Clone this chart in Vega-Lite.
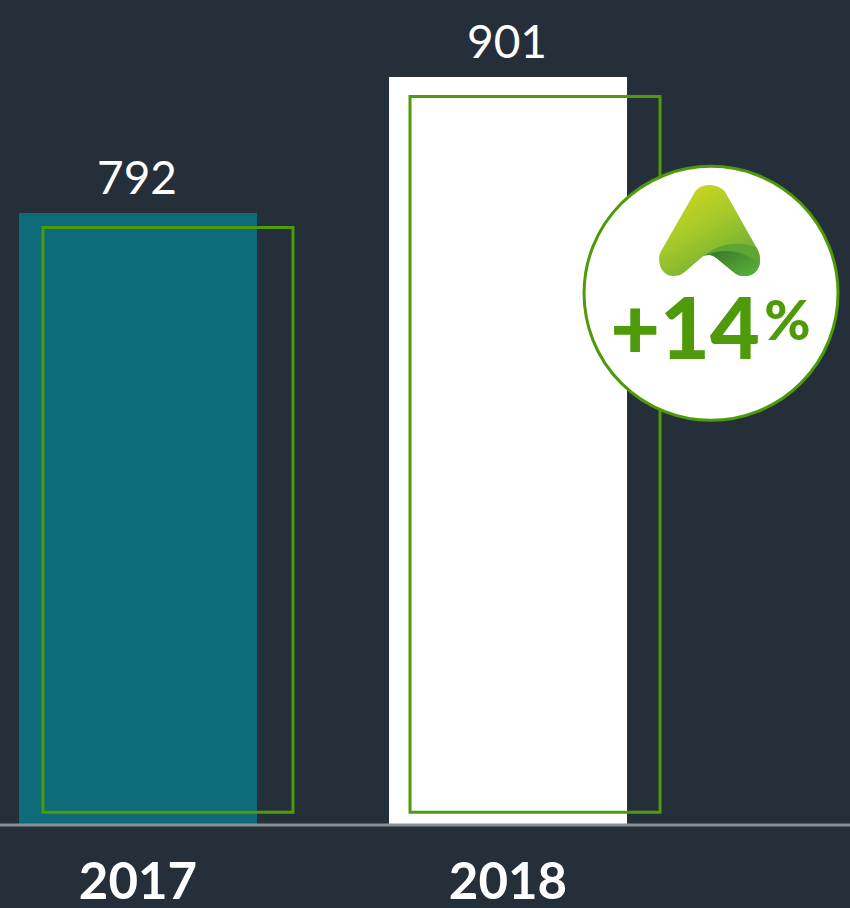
{
"$schema":"https://vega.github.io/schema/vega-lite/v6.json",
"width":850,"height":825,
"autosize":"none",
"padding":{"left":0,"top":0,"right":0,"bottom":83},
"background":"#242f3a",
"config":{"view":{"stroke":null},"text":{"font":"Lato"}},
"datasets":{
 "bars":[{"year":"2017","actual":792,"outline":780.4,"outlineBase":311.7},{"year":"2018","actual":901,"outline":885.4,"outlineBase":311.7}],
 "badge":[{"year":"2018","growth":"+14","unit":"%"}]
},
"encoding":{"x":{"field":"year","type":"nominal","title":null,
 "scale":{"domain":["2017","2018"],"range":[19,627],"paddingInner":0.357,"paddingOuter":0},
 "axis":{"domain":false,"ticks":false,"grid":false,"labelAngle":0,"labelFont":"Lato","labelFontWeight":"bold","labelFontSize":51,"labelColor":"#ffffff","labelBaseline":"alphabetic","labelPadding":73,"labelFlush":false,"labelOverlap":false}}},
"layer":[
 {"data":{"name":"bars"},"mark":{"type":"bar","width":238},
  "encoding":{"y":{"field":"actual","type":"quantitative","stack":null,"axis":null,"scale":{"domain":[301.5,962.7],"zero":false,"nice":false}},
   "color":{"field":"year","type":"nominal","legend":null,"scale":{"domain":["2017","2018"],"range":["#0e6b7a","#ffffff"]}}}},
 {"data":{"name":"bars"},"mark":{"type":"text","fontSize":46,"color":"#ffffff","baseline":"alphabetic","dy":-19,"xOffset":-1},
  "encoding":{"y":{"field":"actual","type":"quantitative","axis":null,"scale":{"domain":[301.5,962.7],"zero":false,"nice":false}},"text":{"field":"actual","type":"quantitative"}}},
 {"data":{"name":"bars"},"transform":[{"filter":"datum.year==='2017'"}],"mark":{"type":"bar","width":250,"xOffset":30,"filled":false,"stroke":"#4f9a0a","strokeWidth":3},
  "encoding":{"y":{"field":"outline","type":"quantitative","stack":null,"axis":null,"scale":{"domain":[301.5,962.7],"zero":false,"nice":false}},"y2":{"field":"outlineBase"}}},
 {"data":{"name":"bars"},"transform":[{"filter":"datum.year==='2018'"}],"mark":{"type":"bar","width":250,"xOffset":27,"filled":false,"stroke":"#4f9a0a","strokeWidth":3},
  "encoding":{"y":{"field":"outline","type":"quantitative","stack":null,"axis":null,"scale":{"domain":[301.5,962.7],"zero":false,"nice":false}},"y2":{"field":"outlineBase"}}},
 {"mark":{"type":"rule","color":"#8a8f94","strokeWidth":3},"data":{"values":[{"base":301.5}]},
  "encoding":{"x":null,"y":{"field":"base","type":"quantitative","axis":null,"scale":{"domain":[301.5,962.7],"zero":false,"nice":false}}}},
 {"data":{"name":"badge"},"mark":{"type":"point","shape":"circle","size":64516,"filled":true,"fill":"#ffffff","stroke":"#4f9a0a","strokeWidth":3,"opacity":1,"xOffset":203},
  "encoding":{"y":{"datum":727.6,"type":"quantitative","axis":null,"scale":{"domain":[301.5,962.7],"zero":false,"nice":false}}}},
 {"data":{"name":"badge"},"mark":{"type":"point","size":4,"filled":true,"opacity":1,"strokeWidth":0,"xOffset":201.5,
   "shape":"M -14.5 -38.8 C -11 -43.5 -5.5 -45.5 0 -45.5 C 5.5 -45.5 12 -43 15.5 -38.8 L 46.5 16.2 C 49 20 50.5 25 50.5 29.5 C 50.5 39 44 45.5 35.5 45.5 C 31.5 45.5 28.5 45 25.5 42.8 L 7.2 27.8 C 5 26 2.5 24.5 0 24.5 C -2 24.5 -4 24.8 -6.2 25.5 L -24.5 41.2 C -28 44.5 -32 45.5 -36.2 45.5 C -45 45.5 -50.5 38 -50.5 28 C -50.5 25 -49.5 22.5 -47.8 19.5 Z",
   "fill":{"gradient":"linear","x1":0.2,"y1":0.05,"x2":0.7,"y2":0.85,"stops":[{"offset":0,"color":"#cdd61f"},{"offset":0.5,"color":"#a5c92a"},{"offset":1,"color":"#74b032"}]}},
  "encoding":{"y":{"datum":778,"type":"quantitative","axis":null,"scale":{"domain":[301.5,962.7],"zero":false,"nice":false}}}},
 {"data":{"name":"badge"},"mark":{"type":"point","size":4,"filled":true,"opacity":1,"strokeWidth":0,"xOffset":201.5,"fill":"#5fa535",
   "shape":"M -6 25.5 C 7 15 25 9.5 46.5 16.5 C 49 20 50.5 25 50.5 29.5 C 50.5 39 44 45.5 35.5 45.5 C 31.5 45.5 28.5 45 25.5 42.8 L 7.2 27.8 C 5 26 2.5 24.5 0 24.5 C -2 24.5 -4 24.8 -6 25.5 Z"},
  "encoding":{"y":{"datum":778,"type":"quantitative","axis":null,"scale":{"domain":[301.5,962.7],"zero":false,"nice":false}}}},
 {"data":{"name":"badge"},"mark":{"type":"point","size":4,"filled":true,"opacity":1,"strokeWidth":0,"xOffset":201.5,
   "shape":"M -3 24.6 C 15 17 35 20 50 34 C 48 41 43 45.5 35.5 45.5 C 31.5 45.5 28.5 45 25.5 42.8 L 7.2 27.8 C 5 26 2.5 24.5 0 24.5 Z",
   "fill":{"gradient":"linear","x1":0,"y1":0.2,"x2":0.85,"y2":0.9,"stops":[{"offset":0,"color":"#3b7a2a"},{"offset":1,"color":"#55ad3b"}]}},
  "encoding":{"y":{"datum":778,"type":"quantitative","axis":null,"scale":{"domain":[301.5,962.7],"zero":false,"nice":false}}}},
 {"data":{"name":"badge"},"mark":{"type":"text","font":"Lato","fontWeight":900,"fontSize":86,"color":"#4f9a0a","baseline":"alphabetic","xOffset":177},
  "encoding":{"y":{"datum":675,"type":"quantitative","axis":null,"scale":{"domain":[301.5,962.7],"zero":false,"nice":false}},"text":{"field":"growth","type":"nominal"}}},
 {"data":{"name":"badge"},"mark":{"type":"text","font":"Lato","fontWeight":900,"fontSize":56,"color":"#4f9a0a","baseline":"alphabetic","xOffset":279.5},
  "encoding":{"y":{"datum":690.2,"type":"quantitative","axis":null,"scale":{"domain":[301.5,962.7],"zero":false,"nice":false}},"text":{"field":"unit","type":"nominal"}}}
]
}
